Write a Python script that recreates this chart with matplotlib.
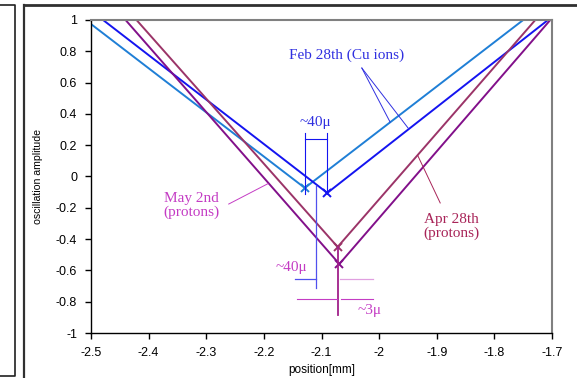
import matplotlib.pyplot as plt
from matplotlib.lines import Line2D
from matplotlib.ticker import FuncFormatter, MultipleLocator

plt.rcParams['font.family'] = ['Liberation Sans', 'DejaVu Sans']
plt.rcParams['axes.unicode_minus'] = False

# --- data: each run is left end, vertex, right end ---
feb_a_x = [-2.5, -2.129, -1.750]
feb_a_y = [0.974, -0.073, 1.0]
feb_b_x = [-2.479, -2.090, -1.707]
feb_b_y = [1.0, -0.105, 1.0]
apr_x = [-2.421, -2.072, -1.729]
apr_y = [1.0, -0.450, 1.0]
may_x = [-2.440, -2.069, -1.703]
may_y = [1.0, -0.559, 1.0]

x_ticks = [-2.5, -2.4, -2.3, -2.2, -2.1, -2.0, -1.9, -1.8, -1.7]

c_lblue = '#1f7fd6'
c_blue = '#1414f0'
c_maroon = '#9b3468'
c_purple = '#82108a'
c_feb_txt = '#3030e0'
c_may_txt = '#c43cc4'
c_apr_txt = '#a82458'
serif = ['Liberation Serif', 'DejaVu Serif']

fig = plt.figure(figsize=(5.77, 3.78), dpi=100)
ax = fig.add_axes([91/577, 45/378, 461/577, 313/378])

ax.plot(feb_a_x, feb_a_y, color=c_lblue, lw=1.4)
ax.plot(feb_b_x, feb_b_y, color=c_blue, lw=1.4)
ax.plot(apr_x, apr_y, color=c_maroon, lw=1.4)
ax.plot(may_x, may_y, color=c_purple, lw=1.4)

# vertex crosses
ax.plot(feb_a_x[1], feb_a_y[1], 'x', color=c_lblue, ms=6, mew=1.4)
ax.plot(feb_b_x[1], feb_b_y[1], 'x', color=c_blue, ms=6, mew=1.4)
ax.plot(apr_x[1], apr_y[1], 'x', color=c_maroon, ms=6, mew=1.4)
ax.plot(may_x[1], may_y[1], 'x', color=c_purple, ms=6, mew=1.4)

ax.set_xlim(-2.5, -1.7)
ax.set_ylim(-1, 1)
ax.set_xticks(x_ticks)
ax.yaxis.set_major_locator(MultipleLocator(0.2))
fmt = FuncFormatter(lambda v, p: f'{round(v, 2):g}')
ax.xaxis.set_major_formatter(fmt)
ax.yaxis.set_major_formatter(fmt)
ax.tick_params(direction='out', length=4, width=1, labelsize=9)
ax.tick_params(axis='y', pad=6)
ax.tick_params(axis='x', pad=6)

for s in ['left', 'bottom']:
    ax.spines[s].set_color('black')
    ax.spines[s].set_linewidth(1)
for s in ['top', 'right']:
    ax.spines[s].set_color('#808080')
    ax.spines[s].set_linewidth(1.5)

ax.set_xlabel('position[mm]', fontsize=8.5, va='center')
ax.xaxis.set_label_coords(0.5, -0.118)
ax.set_ylabel('oscillation amplitude', fontsize=7.6, va='center')
ax.yaxis.set_label_coords(-0.115, 0.5)

# --- upper ~40u bracket between the two Feb vertices ---
ax.plot([feb_a_x[1], feb_a_x[1]], [0.278, -0.112], color=c_blue, lw=0.8)
ax.plot([feb_b_x[1], feb_b_x[1]], [0.278, -0.112], color=c_blue, lw=0.8)
ax.plot([feb_a_x[1], feb_b_x[1]], [0.240, 0.240], color=c_blue, lw=0.8)
ax.text(-2.110, 0.342, '~40\u03bc', color=c_feb_txt, fontsize=11,
        family=serif, ha='center', va='center')

# --- lower ~40u marker ---
ax.plot([-2.1087, -2.1087], [-0.061, -0.712], color='#5050ee', lw=0.9)
ax.plot([-2.146, -2.1087], [-0.652, -0.652], color='#5050ee', lw=0.9)
ax.plot([-2.068, -2.011], [-0.652, -0.652], color='#e0a0e0', lw=0.9)
ax.text(-2.124, -0.580, '~40\u03bc', color=c_may_txt, fontsize=11,
        family=serif, ha='right', va='center')

# --- ~3u marker below proton vertices ---
ax.plot([may_x[1] - 0.0015, may_x[1] - 0.0015], [apr_y[1], -0.885],
        color='#a0208a', lw=1.3)
ax.plot([-2.142, -2.073], [-0.780, -0.780], color=c_may_txt, lw=0.8)
ax.plot([-2.067, -2.011], [-0.780, -0.780], color=c_may_txt, lw=0.8)
ax.text(-2.016, -0.855, '~3\u03bc', color=c_may_txt, fontsize=11,
        family=serif, ha='center', va='center')

# --- labels with leader lines ---
ax.text(-2.056, 0.776, 'Feb 28th (Cu ions)', color=c_feb_txt, fontsize=11,
        family=serif, ha='center', va='center')
ax.plot([-2.030, -1.981], [0.693, 0.348], color=c_feb_txt, lw=0.7)
ax.plot([-2.030, -1.950], [0.693, 0.311], color=c_feb_txt, lw=0.7)

ax.text(-2.325, -0.185, 'May 2nd\n(protons)', color=c_may_txt, fontsize=11,
        family=serif, ha='center', va='center', linespacing=1.0)
ax.plot([-2.261, -2.193], [-0.176, -0.046], color=c_may_txt, lw=0.7)

ax.text(-1.874, -0.320, 'Apr 28th\n(protons)', color=c_apr_txt, fontsize=11,
        family=serif, ha='center', va='center', linespacing=1.0)
ax.plot([-1.894, -1.933], [-0.169, 0.134], color=c_apr_txt, lw=0.7)

# --- outer frames of the page ---
W, H = 577, 378
def fline(xs, ys, **kw):
    fig.add_artist(Line2D([x / W for x in xs], [1 - y / H for y in ys],
                          transform=fig.transFigure, **kw))

fline([0, 15, 15, 0], [5, 5, 376, 376], color='#202020', lw=1.2)
fline([23.5, 23.5], [378, 5], color='#303030', lw=1.6)
fline([23.5, 577], [5, 5], color='#303030', lw=2.0)

fig.savefig('out.png', dpi=100)
